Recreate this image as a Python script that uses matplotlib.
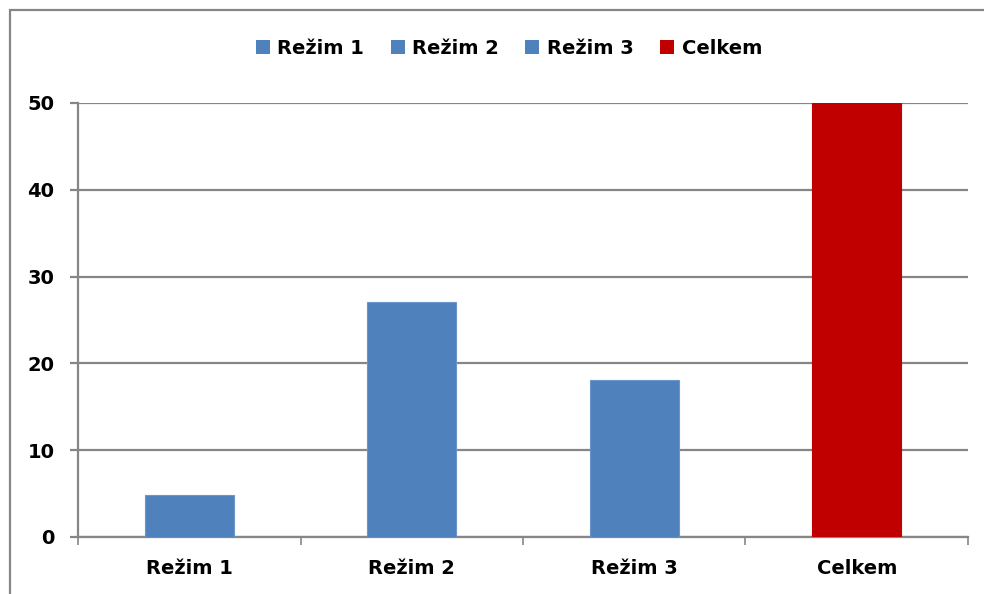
import matplotlib.pyplot as plt
from matplotlib.patches import Patch, Rectangle

# data
categories = ['Režim 1', 'Režim 2', 'Režim 3', 'Celkem']
values = [4.8, 27.1, 18.1, 50]
colors = ['#4F81BD', '#4F81BD', '#4F81BD', '#C00000']
yticks = [0, 10, 20, 30, 40, 50]

grey = '#868686'
plt.rcParams['font.family'] = ['DejaVu Sans']
plt.rcParams['font.weight'] = 'bold'
plt.rcParams['font.size'] = 14

fig = plt.figure(figsize=(9.84, 5.94), dpi=100)
ax = fig.add_axes([78 / 984, 57 / 594, 890 / 984, 434 / 594])

x = list(range(len(categories)))
ax.bar(x, values, width=0.4, color=colors, edgecolor=[c if c != '#4F81BD' else '#6A96CB' for c in colors],
       linewidth=0.8, zorder=3)

ax.set_xlim(-0.5, len(categories) - 0.5)
ax.set_ylim(0, 50)
ax.set_yticks(yticks)
ax.yaxis.grid(True, color=grey, linewidth=1.6, zorder=0)
ax.set_axisbelow(True)

# category boundaries as major ticks, labels on minor ticks
ax.set_xticks([i - 0.5 for i in range(len(categories) + 1)])
ax.set_xticklabels([])
ax.set_xticks(x, minor=True)
ax.set_xticklabels(categories, minor=True)
ax.tick_params(axis='x', which='major', length=6, width=1.2, color=grey, direction='out')
ax.tick_params(axis='x', which='minor', length=0, pad=16)
ax.tick_params(axis='y', length=6, width=1.6, color=grey, direction='out', pad=11)

for s in ['top', 'right']:
    ax.spines[s].set_visible(False)
for s in ['left', 'bottom']:
    ax.spines[s].set_color(grey)
    ax.spines[s].set_linewidth(1.6)

handles = [Patch(facecolor=c) for c in colors]
fig.legend(handles, categories, loc='center', bbox_to_anchor=(509 / 984, 1 - 48 / 594),
           ncol=4, frameon=False, handlelength=0.72, handleheight=0.72,
           handletextpad=0.4, columnspacing=1.35)

# outer chart frame (cut off at right and bottom)
fig.patches.append(Rectangle((10 / 984, -0.1), 1.2, 1.1 - 10 / 594,
                             transform=fig.transFigure, fill=False,
                             edgecolor=grey, linewidth=1.6))

fig.savefig('out.png', dpi=100, facecolor='white')
